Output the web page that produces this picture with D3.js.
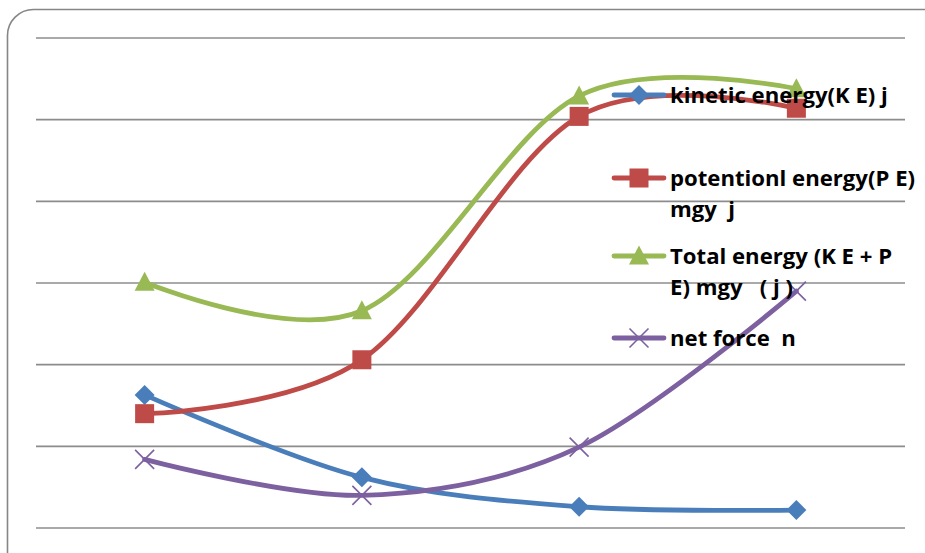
<!DOCTYPE html>
<html>
<head>
<meta charset="utf-8">
<script src="https://cdn.jsdelivr.net/npm/d3@7"></script>
<style>
  html, body { margin: 0; padding: 0; background: #fff; }
  svg { display: block; }
</style>
</head>
<body>
<svg id="chart" width="925" height="553"></svg>
<script>
// Categories along the x axis (four measurement points)
const categories = ["1", "2", "3", "4"];

// Series values
const kineticEnergy   = [1.63, 0.62, 0.26, 0.22];
const potentialEnergy = [1.40, 2.06, 5.04, 5.14];
const totalEnergy     = [3.01, 2.66, 5.29, 5.38];
const netForce        = [0.84, 0.40, 0.99, 2.90];

// Gridline values
const gridTicks = [0, 1, 2, 3, 4, 5, 6];

const seriesNames = [
  ["kinetic energy(K E) j"],
  ["potentionl energy(P E)", "mgy  j"],
  ["Total energy (K E + P", "E) mgy   ( j )"],
  ["net force  n"]
];

const series = [
  { values: kineticEnergy,   color: "#4A7EBB", marker: "diamond", label: seriesNames[0] },
  { values: potentialEnergy, color: "#BE4B48", marker: "square",  label: seriesNames[1] },
  { values: totalEnergy,     color: "#98B954", marker: "triangle",label: seriesNames[2] },
  { values: netForce,        color: "#7D60A0", marker: "cross",   label: seriesNames[3] }
];

const svg = d3.select("#chart");

// Chart area frame with rounded corner
svg.append("rect")
  .attr("x", 7.5).attr("y", 9.5)
  .attr("width", 960).attr("height", 580)
  .attr("rx", 26).attr("ry", 26)
  .attr("fill", "#fff")
  .attr("stroke", "#868686")
  .attr("stroke-width", 1.6);

const plot = { left: 36, right: 905, top: 38, bottom: 528 };

const x = d3.scaleBand()
  .domain(categories)
  .range([plot.left, plot.right]);

const y = d3.scaleLinear()
  .domain([0, 6])
  .range([plot.bottom, plot.top]);

// Horizontal gridlines
svg.append("g")
  .selectAll("line")
  .data(gridTicks)
  .join("line")
  .attr("x1", plot.left).attr("x2", plot.right)
  .attr("y1", d => y(d)).attr("y2", d => y(d))
  .attr("stroke", "#8C8C8C")
  .attr("stroke-width", 1.6);

const cx = c => x(c) + x.bandwidth() / 2;

const line = d3.line()
  .x((d, i) => cx(categories[i]))
  .y(d => y(d))
  .curve(d3.curveCardinal.tension(0));

function drawMarker(g, type, color, px, py) {
  if (type === "diamond") {
    const r = 10;
    g.append("path")
      .attr("d", `M${px},${py - r}L${px + r},${py}L${px},${py + r}L${px - r},${py}Z`)
      .attr("fill", color);
  } else if (type === "square") {
    const s = 19;
    g.append("rect")
      .attr("x", px - s / 2).attr("y", py - s / 2)
      .attr("width", s).attr("height", s)
      .attr("fill", color);
  } else if (type === "triangle") {
    const w = 20, h = 19;
    g.append("path")
      .attr("d", `M${px},${py - h * 0.55}L${px + w / 2},${py + h * 0.45}L${px - w / 2},${py + h * 0.45}Z`)
      .attr("fill", color);
  } else if (type === "cross") {
    const r = 9.5;
    g.append("path")
      .attr("d", `M${px - r},${py - r}L${px + r},${py + r}M${px - r},${py + r}L${px + r},${py - r}`)
      .attr("stroke", color)
      .attr("stroke-width", 1.6)
      .attr("fill", "none");
  }
}

// Lines and markers
series.forEach(s => {
  const g = svg.append("g");
  g.append("path")
    .datum(s.values)
    .attr("d", line)
    .attr("fill", "none")
    .attr("stroke", s.color)
    .attr("stroke-width", 4.8)
    .attr("stroke-linecap", "round")
    .attr("stroke-linejoin", "round");
  s.values.forEach((v, i) => drawMarker(g, s.marker, s.color, cx(categories[i]), y(v)));
});

// Legend
const legendRows = [95, 178, 256, 338];
const legendFont = "'Open Sans', Lato, sans-serif";

// Size the legend font so the first entry spans the legend column width
const probe = svg.append("text")
  .attr("font-family", legendFont)
  .attr("font-weight", "bold")
  .attr("font-size", 20)
  .text(seriesNames[0][0]);
const fontSize = 20 * 218 / probe.node().getComputedTextLength();
probe.remove();

const legend = svg.append("g");
series.forEach((s, i) => {
  const ly = legendRows[i];
  legend.append("line")
    .attr("x1", 614).attr("x2", 664)
    .attr("y1", ly).attr("y2", ly)
    .attr("stroke", s.color)
    .attr("stroke-width", 4.8)
    .attr("stroke-linecap", "round");
  drawMarker(legend, s.marker, s.color, 639, ly);
  const t = legend.append("text")
    .attr("x", 670)
    .attr("y", ly + 8)
    .attr("font-family", legendFont)
    .attr("font-weight", "bold")
    .attr("font-size", fontSize)
    .attr("fill", "#000");
  s.label.forEach((txt, k) => {
    t.append("tspan")
      .attr("x", 670)
      .attr("dy", k === 0 ? 0 : 31)
      .style("white-space", "pre")
      .text(txt);
  });
});
</script>
</body>
</html>
